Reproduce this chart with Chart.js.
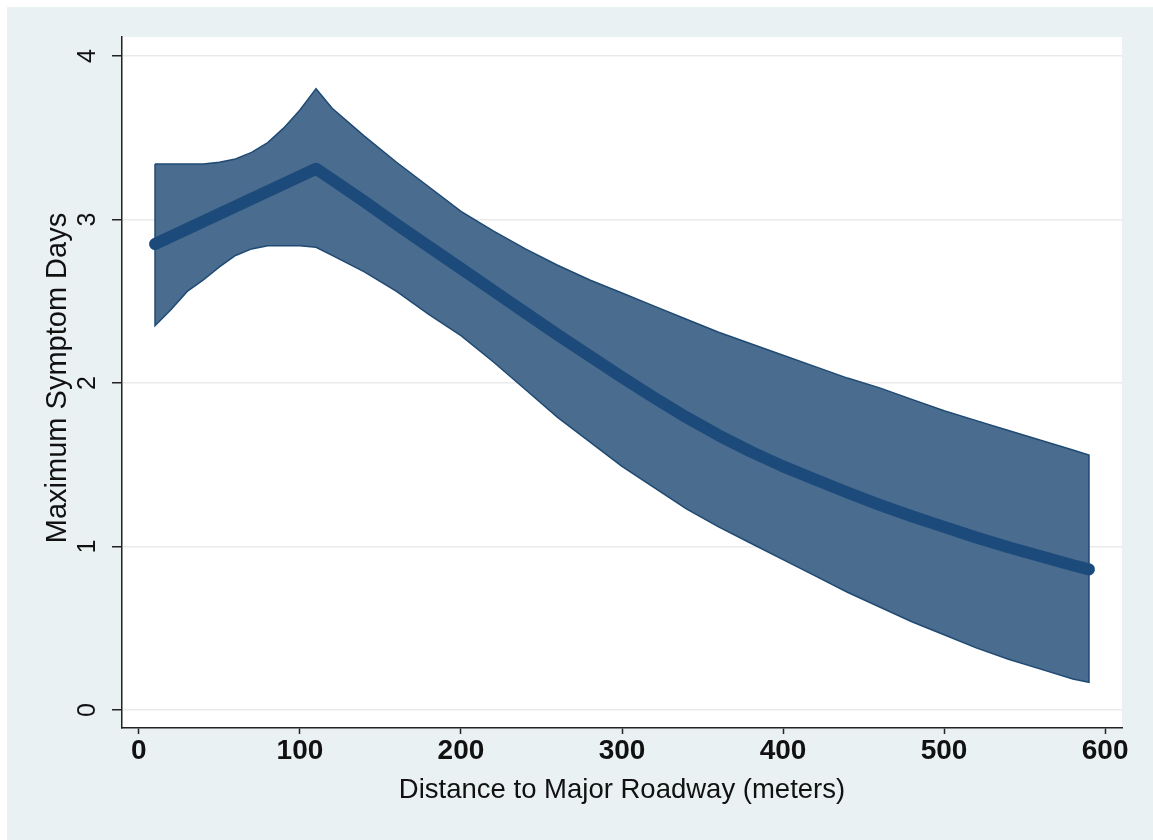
<!DOCTYPE html>
<html>
<head>
<meta charset="utf-8">
<script src="https://cdn.jsdelivr.net/npm/chart.js@4.4.1/dist/chart.umd.min.js"></script>
<style>
  html, body { margin: 0; padding: 0; background: #ffffff; }
  #chart { display: block; }
</style>
</head>
<body>
<canvas id="chart" width="1153" height="840"></canvas>
<script>
// confidence band (meters -> days)
const bandDistance = [10, 20, 30, 40, 50, 60, 70, 80, 90, 100, 110, 120, 140, 160, 180, 200, 220, 240, 260, 280,
                      300, 320, 340, 360, 380, 400, 420, 440, 460, 480, 500, 520, 540, 560, 580, 590];
const upperCI = [3.34, 3.34, 3.34, 3.34, 3.35, 3.37, 3.41, 3.47, 3.56, 3.67, 3.80, 3.68, 3.51, 3.35, 3.20, 3.05,
                 2.93, 2.82, 2.72, 2.63, 2.55, 2.47, 2.39, 2.31, 2.24, 2.17, 2.10, 2.03, 1.97, 1.90, 1.83,
                 1.77, 1.71, 1.65, 1.59, 1.56];
const lowerCI = [2.35, 2.45, 2.56, 2.63, 2.71, 2.78, 2.82, 2.84, 2.84, 2.84, 2.83, 2.78, 2.68, 2.56, 2.42, 2.29,
                 2.13, 1.96, 1.79, 1.64, 1.49, 1.36, 1.23, 1.12, 1.02, 0.92, 0.82, 0.72, 0.63, 0.54, 0.46,
                 0.38, 0.31, 0.25, 0.19, 0.17];

// fitted line (straight up to the knot at 110 m, then curving down)
const fitDistance = [10, 110, 120, 140, 160, 180, 200, 220, 240, 260, 280, 300, 320, 340, 360, 380, 400,
                     420, 440, 460, 480, 500, 520, 540, 560, 580, 590];
const fitted = [2.85, 3.31, 3.245, 3.11, 2.97, 2.835, 2.70, 2.565, 2.43, 2.295, 2.165, 2.035, 1.91, 1.79, 1.68,
                1.58, 1.49, 1.41, 1.33, 1.255, 1.185, 1.12, 1.055, 0.995, 0.94, 0.885, 0.86];

const xTicks = [0, 100, 200, 300, 400, 500, 600];
const yTicks = [0, 1, 2, 3, 4];

const FONT = '"Liberation Sans", Arial, Helvetica, sans-serif';

// band as a closed shape: upper edge forward, lower edge back
const bandPoints = bandDistance.map((d, i) => ({ x: d, y: upperCI[i] }))
  .concat(bandDistance.map((d, i) => ({ x: d, y: lowerCI[i] })).reverse());
bandPoints.push(bandPoints[0]);

const fitPoints = fitDistance.map((d, i) => ({ x: d, y: fitted[i] }));

// backgrounds + rotated y labels (Stata style)
const stataLook = {
    id: 'stataLook',
    beforeDraw(chart) {
        const ctx = chart.ctx;
        const a = chart.chartArea;
        ctx.save();
        ctx.fillStyle = '#ffffff';
        ctx.fillRect(0, 0, chart.width, chart.height);
        ctx.fillStyle = '#eaf1f3';
        ctx.fillRect(7, 7, chart.width - 7, chart.height - 7);
        ctx.fillStyle = '#ffffff';
        ctx.fillRect(a.left, a.top, a.right - a.left, a.bottom - a.top);
        ctx.restore();
    },
    afterDraw(chart) {
        const ctx = chart.ctx;
        const y = chart.scales.y;
        ctx.save();
        ctx.fillStyle = '#111111';
        ctx.textAlign = 'center';
        ctx.textBaseline = 'middle';
        ctx.font = '25px ' + FONT;
        yTicks.forEach(v => {
            ctx.save();
            ctx.translate(88, y.getPixelForValue(v));
            ctx.rotate(-Math.PI / 2);
            ctx.fillText(String(v), 0, 0);
            ctx.restore();
        });
        ctx.font = '29px ' + FONT;
        ctx.translate(58, 378);
        ctx.rotate(-Math.PI / 2);
        ctx.fillText('Maximum Symptom Days', 0, 0);
        ctx.restore();
    }
};

const ctx = document.getElementById('chart').getContext('2d');
const chart = new Chart(ctx, {
    type: 'line',
    data: {
        datasets: [
            {
                label: 'Fitted',
                data: fitPoints,
                order: 0,
                fill: false,
                borderColor: '#1c4b7b',
                borderWidth: 12,
                borderCapStyle: 'round',
                borderJoinStyle: 'round',
                pointRadius: 0,
                tension: 0
            },
            {
                label: '95% CI',
                data: bandPoints,
                order: 1,
                fill: 'shape',
                backgroundColor: '#4a6c8e',
                borderColor: '#1f4a73',
                borderWidth: 1.5,
                pointRadius: 0,
                tension: 0
            }
        ]
    },
    options: {
        responsive: false,
        animation: false,
        devicePixelRatio: 1,
        layout: { padding: { top: 37, right: 31, left: 0, bottom: 0 } },
        plugins: {
            legend: { display: false },
            tooltip: { enabled: false }
        },
        scales: {
            x: {
                type: 'linear',
                min: -10.5,
                max: 610.5,
                afterBuildTicks: s => { s.ticks = xTicks.map(v => ({ value: v })); },
                afterFit: s => { s.height = 112; },
                grid: { drawOnChartArea: false, drawTicks: true, tickLength: 6, tickColor: '#222222', tickWidth: 1.5 },
                border: { display: true, color: '#222222', width: 1.5 },
                ticks: {
                    color: '#111111',
                    font: { family: FONT, size: 28, weight: 'bold' },
                    padding: 0,
                    maxRotation: 0
                },
                title: {
                    display: true,
                    text: 'Distance to Major Roadway (meters)',
                    color: '#111111',
                    font: { family: FONT, size: 27.5 },
                    padding: { top: 0, bottom: 33 }
                }
            },
            y: {
                type: 'linear',
                min: -0.11,
                max: 4.116,
                afterBuildTicks: s => { s.ticks = yTicks.map(v => ({ value: v })); },
                afterFit: s => { s.width = 122; },
                grid: { color: '#eaeaea', lineWidth: 1.5, drawTicks: true, tickLength: 10, tickColor: '#222222', tickWidth: 1.5 },
                border: { display: true, color: '#222222', width: 1.5 },
                ticks: { display: false }
            }
        }
    },
    plugins: [stataLook]
});
</script>
</body>
</html>
